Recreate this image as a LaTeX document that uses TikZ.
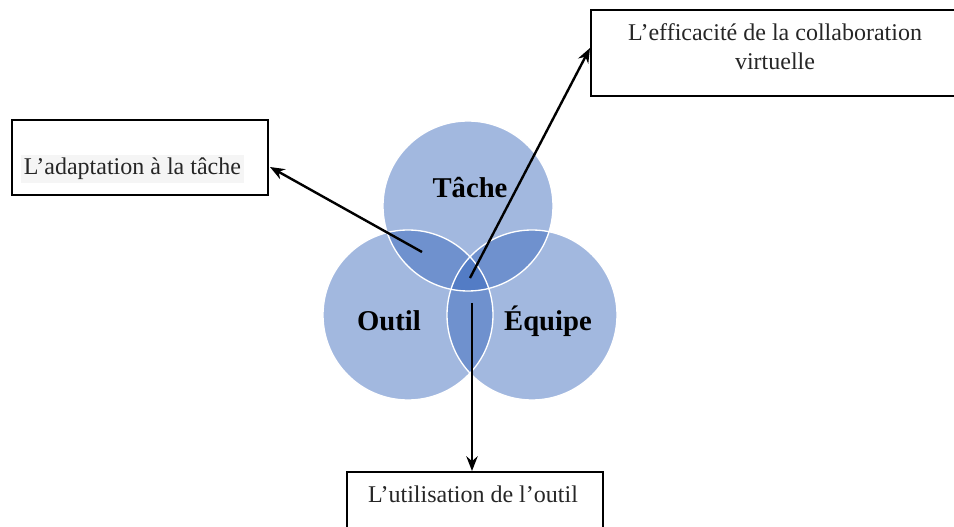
\documentclass[tikz,border=0pt]{standalone}
\usepackage{fontspec}
\setmainfont{Liberation Serif}
\usetikzlibrary{arrows.meta}
\definecolor{vennblue}{RGB}{49,98,185}
\tikzset{
  venn/.style={circle, minimum size=127.5pt, inner sep=0pt, fill=vennblue, fill opacity=0.45, text opacity=1},
  vlabel/.style={font=\fontsize{21.5}{24}\selectfont\bfseries, text=black},
  box/.style={draw=black, line width=0.9pt},
  btext/.style={font=\fontsize{18}{22}\selectfont, text=black!85, align=center},
  conn/.style={line width=1.8pt, -{Stealth[length=11pt,width=8.5pt]}}
}
\begin{document}
\begin{tikzpicture}[x=0.75pt,y=-0.75pt]
\useasboundingbox (0,0) rectangle (954,527);
% circles
\node[venn] (t) at (468,206) {};
\node[venn] (o) at (408,315) {};
\node[venn] (e) at (532,315) {};
\foreach \c in {t,o,e} \draw[white, line width=1pt] (\c.center) circle[radius=63.75pt];
\node[vlabel] (tl) at (470,188) {Tâche};
\node[vlabel] (ol) at (389,321) {Outil};
\node[vlabel] (el) at (548,321) {Équipe};
% boxes
\draw[box] (12,120) rectangle (268,195);
\node[btext, fill=black!4, inner sep=2pt, anchor=west] (b1) at (21,169) {L’adaptation à la tâche};
\coordinate (b1e) at (270,167);
\draw[box] (591,10) rectangle (960,96);
\node[btext] (b2) at (775,47) {L’efficacité de la collaboration\\virtuelle};
\coordinate (b2w) at (590,48);
\draw[box] (347,472) rectangle (603,540);
\node[btext] (b3) at (473,494) {L’utilisation de l’outil};
\coordinate (b3n) at (472,471);
% arrows
\coordinate (s1) at (422,252);
\coordinate (s2) at (470,278);
\coordinate (s3) at (472,303);
\draw[conn] (s1) -- (b1e);
\draw[conn] (s2) -- (b2w);
\draw[conn] (s3) -- (b3n);
\end{tikzpicture}
\end{document}
